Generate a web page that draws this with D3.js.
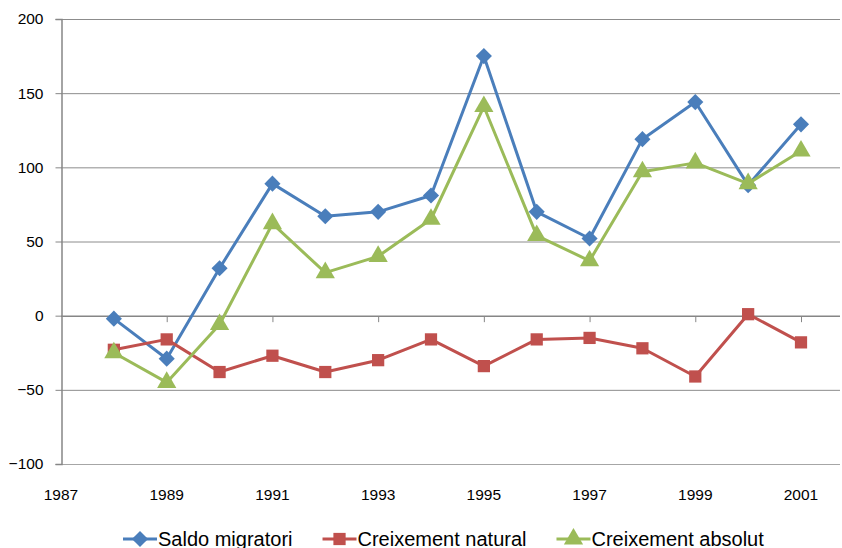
<!DOCTYPE html>
<html>
<head>
<meta charset="utf-8">
<script src="https://cdn.jsdelivr.net/npm/d3@7"></script>
<style>
  body { margin: 0; background: #fff; }
  svg { display: block; font-family: "Liberation Sans", Arial, sans-serif; }
</style>
</head>
<body>
<script>
'use strict';

// data
const years = [1988, 1989, 1990, 1991, 1992, 1993, 1994, 1995, 1996, 1997, 1998, 1999, 2000, 2001];
const saldoMigratori = [-2, -29, 32, 89, 67, 70, 81, 175, 70, 52, 119, 144, 88, 129];
const creixementNatural = [-23, -16, -38, -27, -38, -30, -16, -34, -16, -15, -22, -41, 1, -18];
const creixementAbsolut = [-25, -45, -6, 62, 29, 40, 65, 141, 54, 37, 97, 103, 89, 111];
const seriesNames = ["Saldo migratori", "Creixement natural", "Creixement absolut"];
const seriesColors = ["#4A7EBB", "#C0504D", "#9BBB59"];
const yTicks = [-100, -50, 0, 50, 100, 150, 200];
const xTicks = [1987, 1989, 1991, 1993, 1995, 1997, 1999, 2001];

(function () {
  const width = 842, height = 548;
  const plotLeft = 61, plotRight = 840, plotTop = 19, plotBottom = 464;

  const svg = d3.select('body').append('svg')
    .attr('width', width)
    .attr('height', height);

  const xScale = d3.scaleLinear()
    .domain([1987, 2001])
    .range([plotLeft, 801]);

  const yScale = d3.scaleLinear()
    .domain([-100, 200])
    .range([plotBottom, plotTop]);

  // horizontal gridlines
  svg.append('g')
    .selectAll('line')
    .data(yTicks.filter(d => d !== -100 && d !== 0))
    .enter()
    .append('line')
    .attr('x1', plotLeft)
    .attr('x2', plotRight)
    .attr('y1', d => yScale(d) + 0.5)
    .attr('y2', d => yScale(d) + 0.5)
    .attr('stroke', '#8C8C8C')
    .attr('stroke-width', 1);

  // bottom line at -100
  svg.append('line')
    .attr('x1', plotLeft).attr('x2', plotRight)
    .attr('y1', yScale(-100) + 0.5).attr('y2', yScale(-100) + 0.5)
    .attr('stroke', '#A6A6A6').attr('stroke-width', 1.2);

  // y axis
  const yAxis = d3.axisLeft(yScale).tickValues(yTicks).tickSize(6).tickPadding(12);
  const gy = svg.append('g')
    .attr('transform', `translate(${plotLeft + 0.5}, 0)`)
    .call(yAxis);
  gy.select('.domain').attr('stroke', '#868686').attr('stroke-width', 1.5);
  gy.selectAll('.tick line').attr('stroke', '#868686');
  gy.selectAll('.tick text')
    .attr('fill', '#000')
    .style('font-size', '15.5px')
    .style('font-family', '"Liberation Sans", Arial, sans-serif');

  // x axis along zero line, ticks only
  const xAxis = d3.axisBottom(xScale).tickValues(xTicks.slice(1)).tickSize(6).tickFormat('');
  const gx = svg.append('g')
    .attr('transform', `translate(0, ${yScale(0) + 0.5})`)
    .call(xAxis);
  gx.select('.domain').remove();
  gx.selectAll('.tick line').attr('stroke', '#868686');
  svg.append('line')
    .attr('x1', plotLeft).attr('x2', plotRight)
    .attr('y1', yScale(0) + 0.5).attr('y2', yScale(0) + 0.5)
    .attr('stroke', '#868686').attr('stroke-width', 1.5);

  // x tick labels below the plot
  svg.append('g')
    .selectAll('text')
    .data(xTicks)
    .enter()
    .append('text')
    .attr('x', d => xScale(d))
    .attr('y', 500)
    .attr('text-anchor', 'middle')
    .style('font-size', '15.5px')
    .text(d => d);

  const allSeries = [saldoMigratori, creixementNatural, creixementAbsolut];
  // diamond = square turned 45 degrees
  const shapes = [d3.symbolSquare, d3.symbolSquare, d3.symbolTriangle];
  const shapeSizes = [130, 150, 160];
  const shapeRot = [45, 0, 0];

  const line = d3.line()
    .x(d => xScale(d.year))
    .y(d => yScale(d.value));

  allSeries.forEach(function (values, i) {
    const pts = years.map((y, j) => ({ year: y, value: values[j] }));
    const g = svg.append('g');
    g.append('path')
      .datum(pts)
      .attr('fill', 'none')
      .attr('stroke', seriesColors[i])
      .attr('stroke-width', 3)
      .attr('stroke-linejoin', 'round')
      .attr('d', line);
    g.selectAll('.mark')
      .data(pts)
      .enter()
      .append('path')
      .attr('transform', d => `translate(${xScale(d.year)}, ${yScale(d.value)}) rotate(${shapeRot[i]})`)
      .attr('d', d3.symbol().type(shapes[i]).size(shapeSizes[i]))
      .attr('fill', seriesColors[i]);
  });

  // legend
  const legend = svg.append('g').attr('transform', 'translate(123, 539)');
  let lx = 0;
  seriesNames.forEach(function (name, i) {
    const item = legend.append('g').attr('transform', `translate(${lx}, 0)`);
    item.append('line')
      .attr('x1', 0).attr('x2', 34)
      .attr('y1', 0).attr('y2', 0)
      .attr('stroke', seriesColors[i])
      .attr('stroke-width', 3);
    item.append('path')
      .attr('transform', `translate(17, 0) rotate(${shapeRot[i]})`)
      .attr('d', d3.symbol().type(shapes[i]).size(shapeSizes[i]))
      .attr('fill', seriesColors[i]);
    const t = item.append('text')
      .attr('x', 35)
      .attr('y', 7)
      .style('font-size', '20px')
      .text(name);
    lx += 35 + t.node().getComputedTextLength() + 30;
  });
})();
</script>
</body>
</html>
